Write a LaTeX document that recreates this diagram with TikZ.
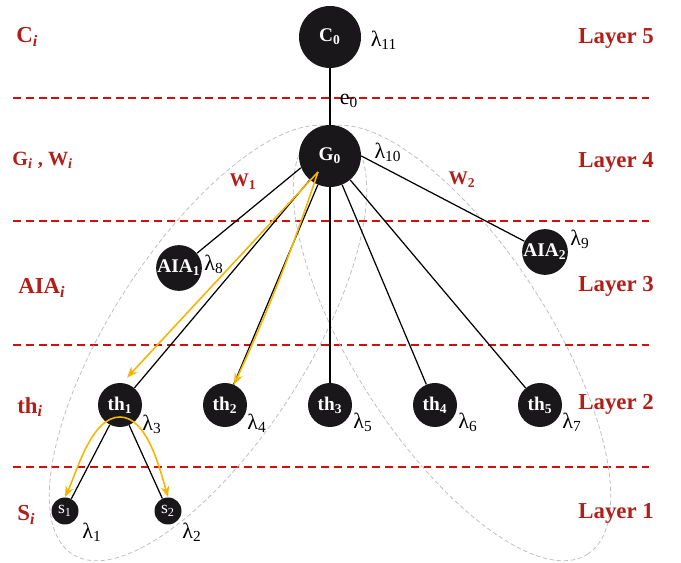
\documentclass[tikz,border=0pt]{standalone}
\usepackage{fontspec}
\setmainfont{Liberation Serif}
\usepackage{xcolor}
\usepackage{tikz}
\usetikzlibrary{arrows.meta,calc}
\definecolor{layred}{rgb}{0.82,0.06,0.06}
\definecolor{labred}{rgb}{0.70,0.12,0.10}
\definecolor{flowyel}{rgb}{0.96,0.71,0.00}
\definecolor{nodeblk}{rgb}{0.10,0.09,0.10}

\begin{document}
\begin{tikzpicture}[
        gnode/.style={circle,fill=nodeblk,text=white,inner sep=0pt,
                  minimum size=1.24cm,font=\fontsize{11}{12}\selectfont\bfseries},
        anode/.style={circle,fill=nodeblk,text=white,inner sep=0pt,
                  minimum size=0.88cm,font=\fontsize{11}{12}\selectfont\bfseries},
        snode/.style={circle,fill=nodeblk,text=white,inner sep=0pt,
                  minimum size=0.54cm,font=\fontsize{10}{11}\selectfont},
        lay/.style={anchor=west,inner sep=0pt,text=labred,
                  font=\fontsize{13}{14}\selectfont\bfseries},
        wlab/.style={inner sep=0pt,text=labred,font=\fontsize{11}{12}\selectfont\bfseries},
        lam/.style={inner sep=0pt,font=\fontsize{12.5}{13}\selectfont},
        layline/.style={layred,dash pattern=on 4.5pt off 2.8pt,line width=0.7pt},
        grp/.style={gray!50,dash pattern=on 2.5pt off 1.5pt,line width=0.45pt},
        edg/.style={line width=0.7pt},
        a/.style={-{Stealth[length=2.2mm,width=1.7mm]},flowyel,line width=0.9pt}
      ]
        \useasboundingbox (0,0) rectangle (13.62,11.26);

        % layer borders
        \foreach \y in {9.30,6.84,4.36,1.92}
          \draw[layline] (0.26,\y) -- (13.04,\y);

        % the two groups W1 and W2
        \draw[grp] (4.16,4.40) ellipse [x radius=5.02cm, y radius=1.96cm, rotate=57.3];
        \draw[grp] (9.04,4.40) ellipse [x radius=5.02cm, y radius=1.96cm, rotate=-57.3];

        \node[gnode] (C0) at (6.60,10.52) {C\textsubscript{0}};
        \node[gnode] (G0) at (6.60,8.14) {G\textsubscript{0}};
        \node[anode] (AIA1) at (3.58,5.90) {AIA\textsubscript{1}};
        \node[anode] (AIA2) at (10.90,6.22) {AIA\textsubscript{2}};
        \node[anode] (th1) at (2.40,3.16) {th\textsubscript{1}};
        \node[anode] (th2) at (4.50,3.16) {th\textsubscript{2}};
        \node[anode] (th3) at (6.60,3.16) {th\textsubscript{3}};
        \node[anode] (th4) at (8.70,3.16) {th\textsubscript{4}};
        \node[anode] (th5) at (10.80,3.16) {th\textsubscript{5}};
        \node[snode] (s1) at (1.30,1.04) {s\textsubscript{1}};
        \node[snode] (s2) at (3.36,1.04) {s\textsubscript{2}};

        \draw[edg] (C0) -- (G0);
        \draw[edg] (G0.202) -- (AIA1);
        \draw[edg] (G0.east) -- (AIA2);
        \foreach \t in {th1,th2,th3,th4,th5}
          \draw[edg] (G0) -- (\t);
        \draw[edg] (th1) -- (s1);
        \draw[edg] (th1) -- (s2);

        % paths followed downwards
        \coordinate (gsrc) at ($(G0)+(-0.24,-0.32)$);
        \coordinate (tsrc) at ($(th1)+(0,-0.24)$);
        \draw[a] (gsrc) -- ([shift={(0.14,0.10)}]th1.north);
        \draw[a] (gsrc) to[bend left=3] (th2.66);
        \draw[a] (tsrc) to[out=180,in=65,looseness=0.75] (s1.north);
        \draw[a] (tsrc) to[out=0,in=106,looseness=0.75] (s2.north);

        \node[lam] (e0) at (6.98,9.24) {e\textsubscript{0}};
        \node[lam] (lam11) at (7.68,10.46) {λ\textsubscript{11}};
        \node[lam] (lam10) at (7.76,8.22) {λ\textsubscript{10}};
        \node[lam] (lam8) at (4.28,5.98) {λ\textsubscript{8}};
        \node[lam] (lam9) at (11.60,6.48) {λ\textsubscript{9}};
        \node[lam] (lam3) at (3.04,2.78) {λ\textsubscript{3}};
        \node[lam] (lam4) at (5.14,2.80) {λ\textsubscript{4}};
        \node[lam] (lam5) at (7.26,2.82) {λ\textsubscript{5}};
        \node[lam] (lam6) at (9.36,2.82) {λ\textsubscript{6}};
        \node[lam] (lam7) at (11.44,2.82) {λ\textsubscript{7}};
        \node[lam] (lam1) at (1.84,0.62) {λ\textsubscript{1}};
        \node[lam] (lam2) at (3.84,0.62) {λ\textsubscript{2}};

        \node[wlab] (w1) at (4.86,7.62) {W\textsubscript{1}};
        \node[wlab] (w2) at (9.24,7.66) {W\textsubscript{2}};

        % left column
        \node[lay] (ci) at (0.32,10.52) {C\textsubscript{\textit{i}}};
        \node[lay,font=\fontsize{11.5}{12}\selectfont\bfseries] (gi) at (0.24,8.06)
          {G\textsubscript{\textit{i}} , W\textsubscript{\textit{i}}};
        \node[lay] (aiai) at (0.36,5.50) {AIA\textsubscript{\textit{i}}};
        \node[lay] (thi) at (0.34,3.12) {th\textsubscript{\textit{i}}};
        \node[lay] (si) at (0.34,0.96) {S\textsubscript{\textit{i}}};

        % right column
        \foreach \k/\y in {5/10.50,4/8.02,3/5.54,2/3.18,1/1.00}
          \node[lay] (layer\k) at (11.56,\y) {Layer \k};
      \end{tikzpicture}
\end{document}
